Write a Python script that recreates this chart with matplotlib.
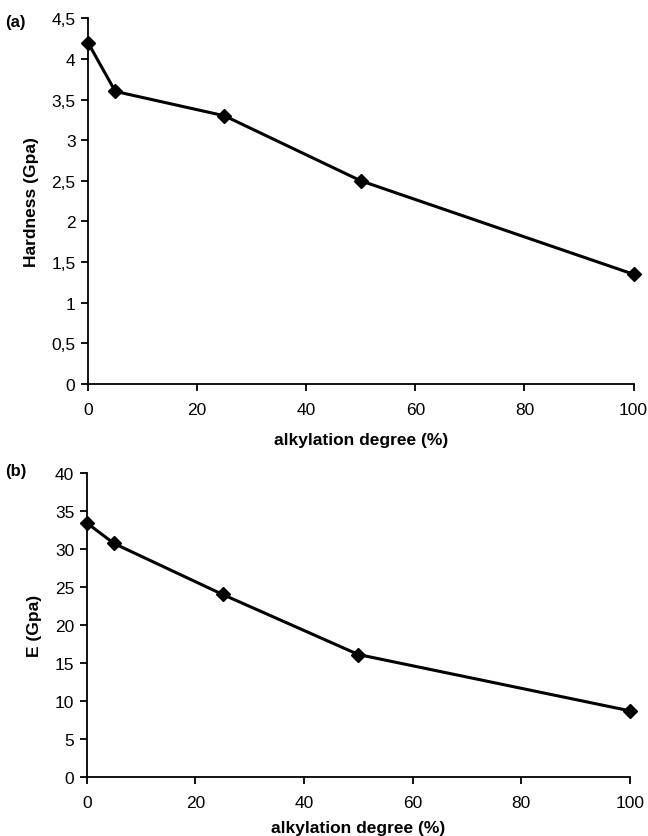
import matplotlib.pyplot as plt
from matplotlib.ticker import FuncFormatter

plt.rcParams['font.family'] = ['Liberation Sans', 'DejaVu Sans']

degree = [0, 5, 25, 50, 100]
hardness = [4.2, 3.6, 3.3, 2.5, 1.35]
modulus = [33.4, 30.7, 24.0, 16.1, 8.7]

fig = plt.figure(figsize=(6.48, 8.37), dpi=100)
ax1 = fig.add_axes([0.1358, 0.540, 0.842, 0.437])
ax2 = fig.add_axes([0.134, 0.0705, 0.838, 0.3635])

# decimal comma on the y axis
comma = FuncFormatter(lambda v, p: ('%g' % v).replace('.', ','))

ax1.plot(degree, hardness, color='black', lw=2.2, marker='D', ms=7, clip_on=False)
ax2.plot(degree, modulus, color='black', lw=2.2, marker='D', ms=7, clip_on=False)

for ax, ymax, step, lpad in [(ax1, 4.5, 0.5, 11), (ax2, 40, 5, 7)]:
    ax.set_xlim(0, 100)
    ax.set_ylim(0, ymax)
    ax.set_xticks(range(0, 101, 20))
    ax.set_yticks([i * step for i in range(int(round(ymax / step)) + 1)])
    ax.yaxis.set_major_formatter(comma)
    for s in ['top', 'right']:
        ax.spines[s].set_visible(False)
    for s in ['left', 'bottom']:
        ax.spines[s].set_linewidth(1.3)
    ax.tick_params(direction='out', length=5, width=1.3, labelsize=12.5)
    ax.tick_params(axis='y', pad=4)
    ax.tick_params(axis='x', pad=8)
    ax.set_xlabel('alkylation degree (%)', fontsize=12.5, fontweight='bold', labelpad=lpad)

ax1.set_ylabel('Hardness (Gpa)', fontsize=12.5, fontweight='bold', labelpad=9)
ax2.set_ylabel('E (Gpa)', fontsize=12.5, fontweight='bold', labelpad=9)

fig.text(0.008, 0.968, '(a)', fontsize=12, fontweight='bold')
fig.text(0.008, 0.431, '(b)', fontsize=12, fontweight='bold')

fig.savefig('out.png', dpi=100)
